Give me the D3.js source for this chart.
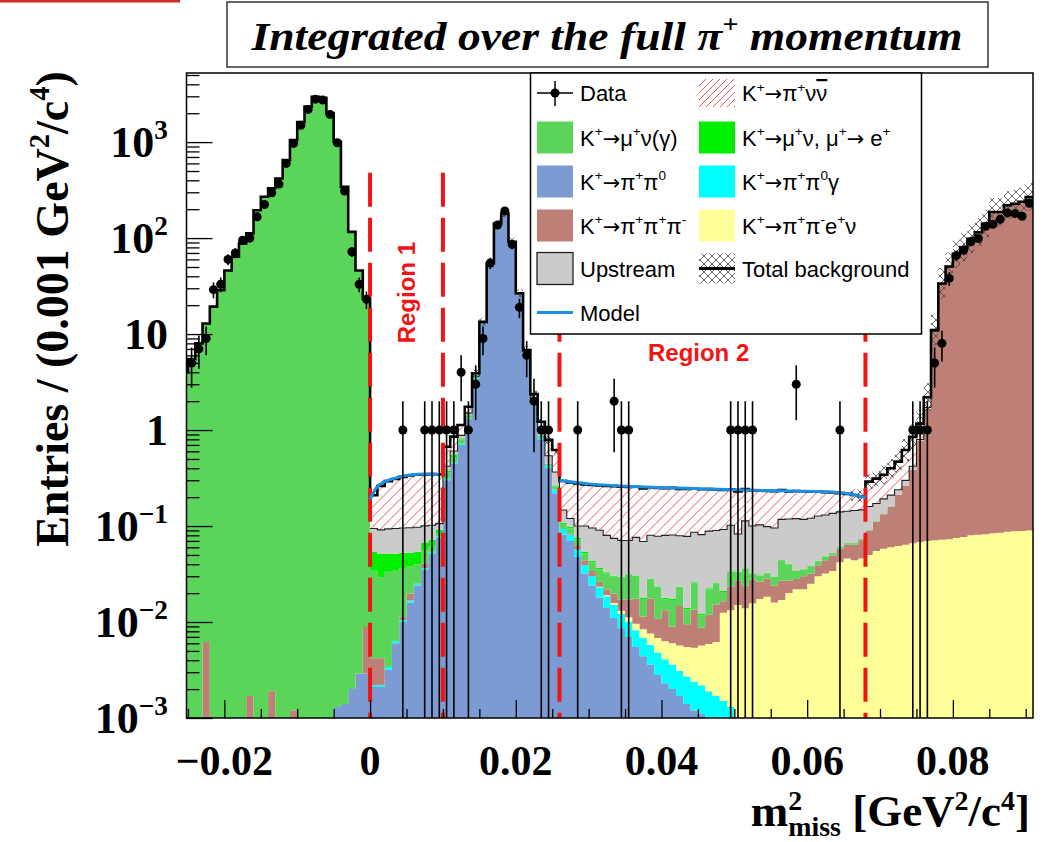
<!DOCTYPE html>
<html>
<head>
<meta charset="utf-8">
<script src="https://cdn.jsdelivr.net/npm/d3@7"></script>
<style>
  body { margin: 0; background: #fff; }
  svg { display: block; }
</style>
</head>
<body>
<svg id="chart" width="1043" height="842"></svg>
<script>
// Histogram bins are 0.001 wide, bin k covers [k*0.001, (k+1)*0.001)
const binWidth = 0.001;
const firstBin = -26, lastBin = 90;

// Data counts, first entry is bin -25
const dataStart = -25;
const dataCounts = [5, 7, 9, 29, 33, 60, 70, 95, 100, 167, 224, 297, 365, 600, 970, 1500, 2190, 2800, 2740, 1945, 984, 309, 72, 33, 23,
  0, 0, 0, 0, 1, 0, 0, 1, 1, 1, 1, 1, 4, 1, 3, 9, 55, 137, 192, 86, 19, 6, 2, 1, 1, 0,
  0, 0, 1, 0, 0, 0, 0, 2, 1, 1, 0, 0, 0, 0, 0, 0, 0, 0, 0, 0, 0, 0, 0, 1, 1, 1, 1, 0, 0, 0, 0, 0, 3,
  0, 0, 0, 0, 0, 1, 0, 0, 0, 0, 0, 0, 0, 0, 0, 1, 1, 1, 5, 8, 38, 66, 75, 92, 99, 133, 139, 157, 183, 180, 169, 230];

// Stack components (bin contents), bottom of stack first
const pipi0Start = -5;
const pipi0 = [0.0013, 0.0014, 0.002, 0.0029, 0.0029, 0.0021, 0.0021, 0.0032, 0.006, 0.01, 0.016, 0.024, 0.035, 0.052, 0.075,
  0.3, 0.45, 0.7, 1.3, 3.4, 12.8, 54, 141.3, 179.3, 90.9, 26, 6.3, 1.9, 0.8, 0.4, 0.22,
  0.081, 0.07, 0.048, 0.032, 0.024, 0.018, 0.014, 0.011, 0.0086, 0.007, 0.0055, 0.0044, 0.0036, 0.0028, 0.0023, 0.002,
  0.0017, 0.0014, 0.0012, 0.0011, 0.0009, 0.0008, 0.0007, 0.0006, 0.0004, 0.0003, 0.0002];

const pipi0gStart = 0;
const pipi0g = [0.0001, 0.0001, 0.0002, 0.0003, 0.0005, 0.0008, 0.001, 0.0015, 0.002, 0.003,
  0.01, 0.015, 0.02, 0.03, 0.06, 0.1, 0.2, 0.3, 0.3, 0.2, 0.1, 0.06, 0.04, 0.03, 0.025, 0.02,
  0.012, 0.011, 0.009, 0.007, 0.006, 0.005, 0.0045, 0.004, 0.0035, 0.003, 0.0027, 0.0024, 0.0022, 0.002, 0.0018,
  0.0016, 0.0014, 0.0013, 0.0012, 0.0011, 0.001, 0.0009, 0.0008, 0.0007, 0.0006, 0.0006, 0.0005, 0.0004, 0.0003];

const ke4Start = 31;
const ke4 = [0.0003, 0.0005, 0.0008, 0.001, 0.0012, 0.0014, 0.0016, 0.0018, 0.002, 0.0022, 0.0024, 0.0026, 0.0028, 0.003,
  0.0035, 0.004, 0.0045, 0.011, 0.012, 0.014, 0.013, 0.015, 0.017, 0.018, 0.016, 0.017, 0.02, 0.022, 0.022, 0.025,
  0.03, 0.032, 0.034, 0.042, 0.046, 0.044, 0.046, 0.05, 0.055, 0.058, 0.06, 0.062, 0.064, 0.066, 0.068, 0.07,
  0.071, 0.072, 0.073, 0.075, 0.077, 0.08, 0.081, 0.082, 0.084, 0.085, 0.087, 0.088, 0.089, 0.09];

const pipipiStart = -23;
const pipipi = [0.0062, 0, 0, 0, 0, 0, 0.0017, 0, 0, 0.0019, 0, 0, 0.0012, 0, 0, 0, 0, 0, 0, 0, 0, 0, 0.006,
  0.002, 0.002, 0, 0, 0.001, 0.003, 0, 0.004, 0, 0, 0, 0, 0, 0, 0, 0, 0, 0, 0, 0, 0, 0, 0, 0, 0, 0, 0,
  0.002, 0.006, 0.005, 0.004, 0.003, 0.003, 0.004, 0.004, 0.006, 0.008, 0.003, 0.01, 0.004, 0.007, 0.003,
  0.009, 0.004, 0.008, 0.003, 0.006, 0.009, 0.004, 0.01, 0.012, 0.01, 0.012, 0.009, 0.01, 0.008, 0.01,
  0.007, 0.006, 0.008, 0.007, 0.009, 0.012, 0.015, 0.016, 0.018, 0.02, 0.025,
  0.04, 0.055, 0.075, 0.1, 0.15, 0.2, 0.32, 0.7, 1.6, 10.4, 33, 50, 68, 80, 98, 115, 141, 187, 187, 220, 228, 239, 268];

const muNuStart = -26;
const muNu = [4, 5.5, 8, 12.9, 19.3, 28.7, 46, 64, 88, 112, 195, 270, 330, 418, 650, 1050, 1620, 2340, 2970, 2900,
  1990, 1007, 342, 116, 46, 23.5,
  0.03, 0.025, 0.03, 0.028, 0.025, 0.018, 0.015, 0.015, 0.008, 0.005,
  0.05, 0.06, 0.08, 0.1, 0.12, 0.15, 0.1, 0, 0, 0, 0.15, 0.1, 0.06, 0.04, 0.02, 0.02,
  0.012, 0.012, 0.01, 0.008, 0.008, 0.009, 0.01, 0.01, 0.012, 0.014, 0.012, 0.006, 0.01, 0.012, 0.004, 0.008,
  0.008, 0.004, 0.012, 0.003, 0.01, 0.01, 0.004, 0.01, 0.006, 0.012, 0.004, 0.004, 0.004, 0.005, 0.017,
  0.013, 0.006, 0.005, 0.006, 0.004, 0.004, 0.003, 0.002, 0.002, 0.002, 0.002, 0.002, 0.002, 0.002];

const muNuEStart = 0;
const muNuE = [0.02, 0.022, 0.018, 0.017, 0.016, 0.015, 0.014, 0.012, 0.01, 0.008,
  0.02, 0.03, 0.02, 0.02, 0, 0, 0, 0, 0, 0, 0, 0, 0, 0, 0, 0.005,
  0.004, 0.003, 0.002, 0.002, 0.0015, 0.0012, 0.001,
  0.0006, 0.0006, 0.0006, 0.0006, 0.0006, 0.0006, 0.0006, 0.0006, 0.0006, 0.0006, 0.0006, 0.0006, 0.0006,
  0.0006, 0.0006, 0.0006, 0.0006, 0.0006,
  0.0004, 0.0004, 0.0004, 0.0004, 0.0004, 0.0004, 0.0004, 0.0004, 0.0004, 0.0004, 0.0004, 0.0004, 0.0004,
  0.0004, 0.0004, 0.0004, 0.0004];

const upstreamStart = 0;
const upstream = [0.04, 0.04, 0.042, 0.043, 0.043, 0.043, 0.043, 0.033, 0.03, 0.015,
  0.04, 0.05, 0.06, 0.05, 0.07, 0.1, 0.05, 0.1, 0.15, 0.15, 0.1, 0.09, 0.12, 0.1, 0.095, 0.1,
  0.038, 0.022, 0.025, 0.046, 0.052, 0.054, 0.047, 0.044, 0.041, 0.039, 0.046, 0.051, 0.052, 0.055, 0.062,
  0.063, 0.056, 0.064, 0.06, 0.069, 0.066, 0.064, 0.071, 0.068, 0.049, 0.077, 0.068, 0.072, 0.066, 0.066,
  0.073, 0.078, 0.085, 0.082, 0.082, 0.084, 0.082, 0.083, 0.08, 0.076, 0.079, 0.074,
  0.068, 0.06, 0.057, 0.05, 0.027, 0.035, 0.034, 0.03, 0.05, 0.1, 0.2, 0.2, 0.2];

const signalStart = 0;
const signal = [0.115, 0.17, 0.2, 0.215, 0.23, 0.24, 0.245, 0.245, 0.245, 0.24,
  0.25, 0.25, 0.25, 0.25, 0.25, 0.25, 0.25, 0.25, 0.25, 0.25, 0.25, 0.25, 0.25, 0.25, 0.25, 0.255,
  0.148, 0.165, 0.178, 0.172, 0.173, 0.175, 0.182, 0.186, 0.187, 0.185, 0.18, 0.177, 0.173, 0.171, 0.168,
  0.169, 0.164, 0.165, 0.159, 0.16, 0.154, 0.151, 0.146, 0.139, 0.146, 0.13, 0.136, 0.13, 0.134, 0.135,
  0.12, 0.111, 0.112, 0.113, 0.108, 0.102, 0.095, 0.088, 0.08, 0.074, 0.065, 0.056,
  0.13, 0.14, 0.15, 0.19, 0.23, 0.32, 0.43, 0.37, 0.48, 0.43, 0.4, 0.3, 0.2];

// relative uncertainty of total background (cross-hatched band)
const bandStart = 14;
const bandFrac = [0.1, 0.1, 0.1, 0.1, 0.1, 0.1, 0.1, 0.1, 0.1, 0.1, 0.1, 0.1,
  0, 0, 0, 0, 0, 0, 0, 0, 0, 0, 0, 0, 0, 0, 0, 0, 0, 0, 0, 0, 0, 0, 0, 0, 0, 0, 0, 0, 0, 0, 0, 0, 0, 0, 0, 0, 0, 0, 0, 0,
  0.15, 0.15, 0.2, 0.2, 0.25, 0.25, 0.3, 0.3, 0.35, 0.35, 0.4, 0.45, 0.45, 0.4, 0.4, 0.4, 0.4, 0.4, 0.4, 0.4, 0.4,
  0.4, 0.4, 0.4, 0.4];

// Signal model curves in the two signal regions
const modelR1X = [0, 0.0008, 0.002, 0.0031, 0.0054, 0.0077, 0.0095];
const modelR1Y = [0.19, 0.247, 0.29, 0.31, 0.34, 0.348, 0.345];
const modelR2X = [0.026, 0.03, 0.0352, 0.04, 0.0489, 0.055, 0.0626, 0.0655, 0.068];
const modelR2Y = [0.3, 0.275, 0.26, 0.252, 0.24, 0.234, 0.228, 0.218, 0.198];

// Signal region boundaries
const regionEdges = [0, 0.01, 0.026, 0.068];
const regionLineTop = 480;

const xTicksMajor = [-0.02, 0, 0.02, 0.04, 0.06, 0.08];
const xTickLabels = ["\u22120.02", "0", "0.02", "0.04", "0.06", "0.08"];
const yExponents = [-3, -2, -1, 0, 1, 2, 3];

// ---------------------------------------------------------------
const svg = d3.select("#chart");
const plot = { left: 186.5, right: 1033, top: 73, bottom: 718 };
const yMin = 1e-3;
const red = "#f01414", modelBlue = "#1a8fe3", hatchRed = "#ee5a5a";

const x = d3.scaleLinear().domain([-0.0252, 0.091]).range([plot.left, plot.right]);
const y = d3.scaleLog().domain([yMin, Math.pow(10, 3.72)]).range([plot.bottom, plot.top]);

const ks = d3.range(firstBin, lastBin + 1);
function expand(start, vals) {
  return ks.map(k => {
    const i = k - start;
    return i >= 0 && i < vals.length ? vals[i] : 0;
  });
}

const layers = [
  { vals: expand(pipi0Start, pipi0), fill: "#7b9bd2" },
  { vals: expand(pipi0gStart, pipi0g), fill: "#00ffff" },
  { vals: expand(ke4Start, ke4), fill: "#ffff99" },
  { vals: expand(pipipiStart, pipipi), fill: "#be7f76" },
  { vals: expand(muNuStart, muNu), fill: "#5ad55a" },
  { vals: expand(muNuEStart, muNuE), fill: "#00ee00" },
  { vals: expand(upstreamStart, upstream), fill: "#cbcbcb" },
  { vals: expand(signalStart, signal), fill: "#ffffff", hatch: true }
];
let run = ks.map(() => 0);
layers.forEach(L => {
  L.lo = run.slice();
  run = run.map((r, i) => r + L.vals[i]);
  L.hi = run.slice();
});
const total = run;

const defs = svg.append("defs");
defs.append("clipPath").attr("id", "plotClip")
  .append("rect")
  .attr("x", plot.left).attr("y", plot.top)
  .attr("width", plot.right - plot.left).attr("height", plot.bottom - plot.top);

const cross = defs.append("pattern").attr("id", "crossHatch")
  .attr("patternUnits", "userSpaceOnUse").attr("width", 8).attr("height", 8);
cross.append("path").attr("d", "M0,8 L8,0 M-2,2 L2,-2 M6,10 L10,6 M0,0 L8,8 M-2,6 L2,10 M6,-2 L10,2")
  .attr("stroke", "#444").attr("stroke-width", 0.8);

// white background + top-left accent of the slide
svg.append("rect").attr("width", 1043).attr("height", 842).attr("fill", "#fff");
svg.append("rect").attr("x", 0).attr("y", 0).attr("width", 180).attr("height", 2.5).attr("fill", "#d42a2a");

const g = svg.append("g").attr("clip-path", "url(#plotClip)");

function stepPoints(idxs, loArr, hiArr) {
  const pts = [];
  idxs.forEach(i => {
    const x0 = x(ks[i] * binWidth), x1 = x((ks[i] + 1) * binWidth);
    pts.push({ x: x0, lo: loArr[i], hi: hiArr[i] });
    pts.push({ x: x1, lo: loArr[i], hi: hiArr[i] });
  });
  return pts;
}
const allIdx = d3.range(ks.length);
const area = d3.area()
  .x(d => d.x)
  .y0(d => y(Math.max(d.lo, yMin)))
  .y1(d => y(Math.max(d.hi, yMin)));
const stepLine = d3.line().x(d => d.x).y(d => y(Math.max(d.hi, yMin)));

// diagonal red hatching clipped to a shape
function hatchInto(parent, clipId, x0, x1, y0, y1, step) {
  const hg = parent.append("g").attr("clip-path", `url(#${clipId})`);
  const h = y1 - y0;
  for (let c = x0 - h; c < x1; c += step) {
    hg.append("line")
      .attr("x1", c).attr("y1", y1).attr("x2", c + h).attr("y2", y0)
      .attr("stroke", hatchRed).attr("stroke-width", 1);
  }
}

// stacked fills
layers.forEach(L => {
  const d = area(stepPoints(allIdx, L.lo, L.hi));
  g.append("path").attr("d", d).attr("fill", L.fill).attr("stroke", "none");
  if (L.hatch) {
    defs.append("clipPath").attr("id", "sigClip").append("path").attr("d", d);
    hatchInto(g, "sigClip", plot.left, plot.right, plot.top, plot.bottom, 10);
  }
});

// upstream outline
const upIdx = allIdx.filter(i => ks[i] >= upstreamStart && ks[i] < upstreamStart + upstream.length);
g.append("path")
  .attr("d", stepLine(stepPoints(upIdx, layers[6].lo, layers[6].hi)))
  .attr("fill", "none").attr("stroke", "#222").attr("stroke-width", 1.1);

// uncertainty band of total
const bandVals = expand(bandStart, bandFrac);
const bandIdx = allIdx.filter(i => bandVals[i] > 0);
const bandLo = total.map((t, i) => t / (1 + bandVals[i]));
const bandHi = total.map((t, i) => t * (1 + bandVals[i]));
bandIdx.forEach(i => {
  g.append("path")
    .attr("d", area(stepPoints([i], bandLo, bandHi)))
    .attr("fill", "url(#crossHatch)");
});

// total outline
g.append("path")
  .attr("d", stepLine(stepPoints(allIdx, total, total)))
  .attr("fill", "none").attr("stroke", "#000").attr("stroke-width", 2.6);

// region boundaries
regionEdges.forEach(v => {
  g.append("line")
    .attr("x1", x(v)).attr("x2", x(v))
    .attr("y1", y(regionLineTop)).attr("y2", y(yMin))
    .attr("stroke", red).attr("stroke-width", 4)
    .attr("stroke-dasharray", "34,11");
});

// model curves
const modelLine = d3.line().x(d => x(d[0])).y(d => y(d[1])).curve(d3.curveMonotoneX);
[[modelR1X, modelR1Y], [modelR2X, modelR2Y]].forEach(([mx, my]) => {
  g.append("path")
    .attr("d", modelLine(mx.map((v, i) => [v, my[i]])))
    .attr("fill", "none").attr("stroke", modelBlue).attr("stroke-width", 3);
});

// data points
const points = dataCounts.map((n, i) => ({ c: (dataStart + i + 0.5) * binWidth, n }))
  .filter(d => d.n > 0);
g.selectAll("line.err").data(points).join("line")
  .attr("class", "err")
  .attr("x1", d => x(d.c)).attr("x2", d => x(d.c))
  .attr("y1", d => y(Math.max(d.n - Math.sqrt(d.n), yMin)))
  .attr("y2", d => y(d.n + Math.sqrt(d.n)))
  .attr("stroke", "#000").attr("stroke-width", 1.6);
g.selectAll("circle.pt").data(points).join("circle")
  .attr("class", "pt")
  .attr("cx", d => x(d.c)).attr("cy", d => y(d.n)).attr("r", 4.5)
  .attr("fill", "#000");

// region labels
svg.append("text")
  .attr("transform", `translate(${x(0.005) + 8},${y(27)}) rotate(-90)`)
  .attr("text-anchor", "middle")
  .attr("font-family", "Liberation Sans, Arial, sans-serif").attr("font-weight", "bold")
  .attr("font-size", 24).attr("fill", red)
  .text("Region 1");
svg.append("text")
  .attr("x", x(0.0451)).attr("y", y(5.3))
  .attr("text-anchor", "middle")
  .attr("font-family", "Liberation Sans, Arial, sans-serif").attr("font-weight", "bold")
  .attr("font-size", 24).attr("fill", red)
  .text("Region 2");

// frame and ticks
svg.append("rect")
  .attr("x", plot.left).attr("y", plot.top)
  .attr("width", plot.right - plot.left).attr("height", plot.bottom - plot.top)
  .attr("fill", "none").attr("stroke", "#000").attr("stroke-width", 1.5);

const yMinor = [];
yExponents.forEach(e => d3.range(2, 10).forEach(m => {
  const v = m * Math.pow(10, e);
  if (v < y.domain()[1]) yMinor.push(v);
}));
function styleAxis(sel) {
  sel.select(".domain").remove();
  sel.selectAll("line").attr("stroke", "#000").attr("stroke-width", 1.3);
}
svg.append("g").attr("transform", `translate(${plot.left},0)`)
  .call(d3.axisLeft(y).tickValues(yMinor).tickSize(-13).tickFormat(""))
  .call(styleAxis);
svg.append("g").attr("transform", `translate(${plot.left},0)`)
  .call(d3.axisLeft(y).tickValues(yExponents.map(e => Math.pow(10, e))).tickSize(-26).tickFormat(""))
  .call(styleAxis);
const xMinor = d3.range(-25, 91, 5).map(v => v / 1000).filter(v => !xTicksMajor.some(m => Math.abs(m - v) < 1e-9));
svg.append("g").attr("transform", `translate(0,${plot.bottom})`)
  .call(d3.axisBottom(x).tickValues(xMinor).tickSize(-9).tickFormat(""))
  .call(styleAxis);
svg.append("g").attr("transform", `translate(0,${plot.bottom})`)
  .call(d3.axisBottom(x).tickValues(xTicksMajor).tickSize(-18).tickFormat(""))
  .call(styleAxis);

// rich text helper: parts are strings or [string, kind, dx]
function addRich(textSel, parts, size, supUp = 0.42, subDown = 0.28) {
  let shift = 0;
  parts.forEach(p => {
    let str = p, kind = null, dx = 0;
    if (Array.isArray(p)) [str, kind, dx = 0] = p;
    let target = 0;
    if (kind === "sup") target = -supUp * size;
    else if (kind === "sub") target = subDown * size;
    const ts = textSel.append("tspan").attr("dy", target - shift).text(str);
    if (dx) ts.attr("dx", dx);
    shift = target;
    if (kind === "sup" || kind === "sub") ts.attr("font-size", size * 0.62);
    if (kind === "bar") ts.style("text-decoration", "overline");
    if (kind === "arr") ts.attr("font-family", "DejaVu Sans, sans-serif").attr("font-size", size * 0.95);
  });
}

const serif = "Liberation Serif, Times New Roman, serif";
// y tick labels
yExponents.forEach(e => {
  const t = svg.append("text")
    .attr("x", 168).attr("y", y(Math.pow(10, e)) + 15)
    .attr("text-anchor", "end")
    .attr("font-family", serif).attr("font-weight", "bold").attr("font-size", 44);
  if (e === 0) addRich(t, ["1"], 44);
  else if (e === 1) addRich(t, ["10"], 44);
  else addRich(t, ["10", [e < 0 ? "\u2212" + (-e) : String(e), "sup"]], 44);
});
// x tick labels
xTicksMajor.forEach((v, i) => {
  svg.append("text")
    .attr("x", x(v)).attr("y", 775)
    .attr("text-anchor", "middle")
    .attr("font-family", serif).attr("font-weight", "bold").attr("font-size", 42)
    .text(xTickLabels[i]);
});
// axis titles
const xt = svg.append("text")
  .attr("x", 1030).attr("y", 826)
  .attr("text-anchor", "end")
  .attr("font-family", serif).attr("font-weight", "bold").attr("font-size", 45);
addRich(xt, ["m", ["2", "sup"], ["miss", "sub", -14], " [GeV", ["2", "sup"], "/c", ["4", "sup"], "]"], 45, 0.36, 0.22);

const yt = svg.append("text")
  .attr("transform", "translate(68,309) rotate(-90)")
  .attr("text-anchor", "middle")
  .attr("font-family", serif).attr("font-weight", "bold").attr("font-size", 46);
addRich(yt, ["Entries / (0.001 GeV", ["2", "sup"], "/c", ["4", "sup"], ")"], 46);

// title box
svg.append("rect").attr("x", 227).attr("y", 2).attr("width", 761).attr("height", 65)
  .attr("fill", "#fff").attr("stroke", "#333").attr("stroke-width", 1.5);
const tt = svg.append("text")
  .attr("x", 607).attr("y", 50)
  .attr("text-anchor", "middle")
  .attr("font-family", serif).attr("font-weight", "bold").attr("font-style", "italic")
  .attr("font-size", 40)
  .attr("textLength", 711).attr("lengthAdjust", "spacingAndGlyphs");
addRich(tt, ["Integrated over the full \u03c0", ["+", "sup"], " momentum"], 40);

// legend
const lg = svg.append("g");
lg.append("rect").attr("x", 530.5).attr("y", 73).attr("width", 391).attr("height", 261)
  .attr("fill", "#fff").attr("stroke", "#000").attr("stroke-width", 1.5);
const rowY = [93, 137.5, 181.5, 225.5, 268.5, 312.5];
const col1X = 537, col2X = 699, swW = 36, swH = 32;
const sans = "Liberation Sans, Arial, sans-serif";
const K = ["K", ["+", "sup"], ["\u2192", "arr"]];
function legendText(xp, yc, parts) {
  const t = lg.append("text").attr("x", xp).attr("y", yc + 8)
    .attr("font-family", sans).attr("font-size", 22).attr("fill", "#000");
  addRich(t, parts, 22);
}
function swatch(xp, yc, fill, stroke) {
  lg.append("rect").attr("x", xp).attr("y", yc - swH / 2).attr("width", swW).attr("height", swH)
    .attr("fill", fill).attr("stroke", stroke || "none").attr("stroke-width", 1.3);
}
// Data
lg.append("line").attr("x1", col1X).attr("x2", col1X + swW).attr("y1", rowY[0]).attr("y2", rowY[0])
  .attr("stroke", "#000").attr("stroke-width", 1.5);
lg.append("line").attr("x1", col1X + swW / 2).attr("x2", col1X + swW / 2).attr("y1", rowY[0] - 12).attr("y2", rowY[0] + 13)
  .attr("stroke", "#000").attr("stroke-width", 1.5);
lg.append("circle").attr("cx", col1X + swW / 2).attr("cy", rowY[0]).attr("r", 4.5).attr("fill", "#000");
legendText(580, rowY[0], ["Data"]);
swatch(col1X, rowY[1], "#5ad55a");
legendText(580, rowY[1], [...K, "\u03bc", ["+", "sup"], "\u03bd(\u03b3)"]);
swatch(col1X, rowY[2], "#7b9bd2");
legendText(580, rowY[2], [...K, "\u03c0", ["+", "sup"], "\u03c0", ["0", "sup"]]);
swatch(col1X, rowY[3], "#be7f76");
legendText(580, rowY[3], [...K, "\u03c0", ["+", "sup"], "\u03c0", ["+", "sup"], "\u03c0", ["-", "sup"]]);
swatch(col1X, rowY[4], "#cbcbcb", "#222");
legendText(580, rowY[4], ["Upstream"]);
lg.append("line").attr("x1", col1X).attr("x2", col1X + swW).attr("y1", rowY[5]).attr("y2", rowY[5])
  .attr("stroke", modelBlue).attr("stroke-width", 3);
legendText(580, rowY[5], ["Model"]);

defs.append("clipPath").attr("id", "sigLegClip").append("rect")
  .attr("x", col2X).attr("y", rowY[0] - 14).attr("width", swW).attr("height", 28);
hatchInto(lg, "sigLegClip", col2X, col2X + swW, rowY[0] - 14, rowY[0] + 14, 7);
legendText(742, rowY[0], [...K, "\u03c0", ["+", "sup"], "\u03bd", ["\u03bd", "bar"]]);
swatch(col2X, rowY[1], "#00ee00");
legendText(742, rowY[1], [...K, "\u03bc", ["+", "sup"], "\u03bd, \u03bc", ["+", "sup"], ["\u2192", "arr"], "  e", ["+", "sup"]]);
swatch(col2X, rowY[2], "#00ffff");
legendText(742, rowY[2], [...K, "\u03c0", ["+", "sup"], "\u03c0", ["0", "sup"], "\u03b3"]);
swatch(col2X, rowY[3], "#ffff99");
legendText(742, rowY[3], [...K, "\u03c0", ["+", "sup"], "\u03c0", ["-", "sup"], "e", ["+", "sup"], "\u03bd"]);
lg.append("rect").attr("x", col2X).attr("y", rowY[4] - 15).attr("width", swW).attr("height", 30)
  .attr("fill", "url(#crossHatch)");
lg.append("line").attr("x1", col2X).attr("x2", col2X + swW).attr("y1", rowY[4]).attr("y2", rowY[4])
  .attr("stroke", "#000").attr("stroke-width", 3);
legendText(742, rowY[4], ["Total background"]);
</script>
</body>
</html>
